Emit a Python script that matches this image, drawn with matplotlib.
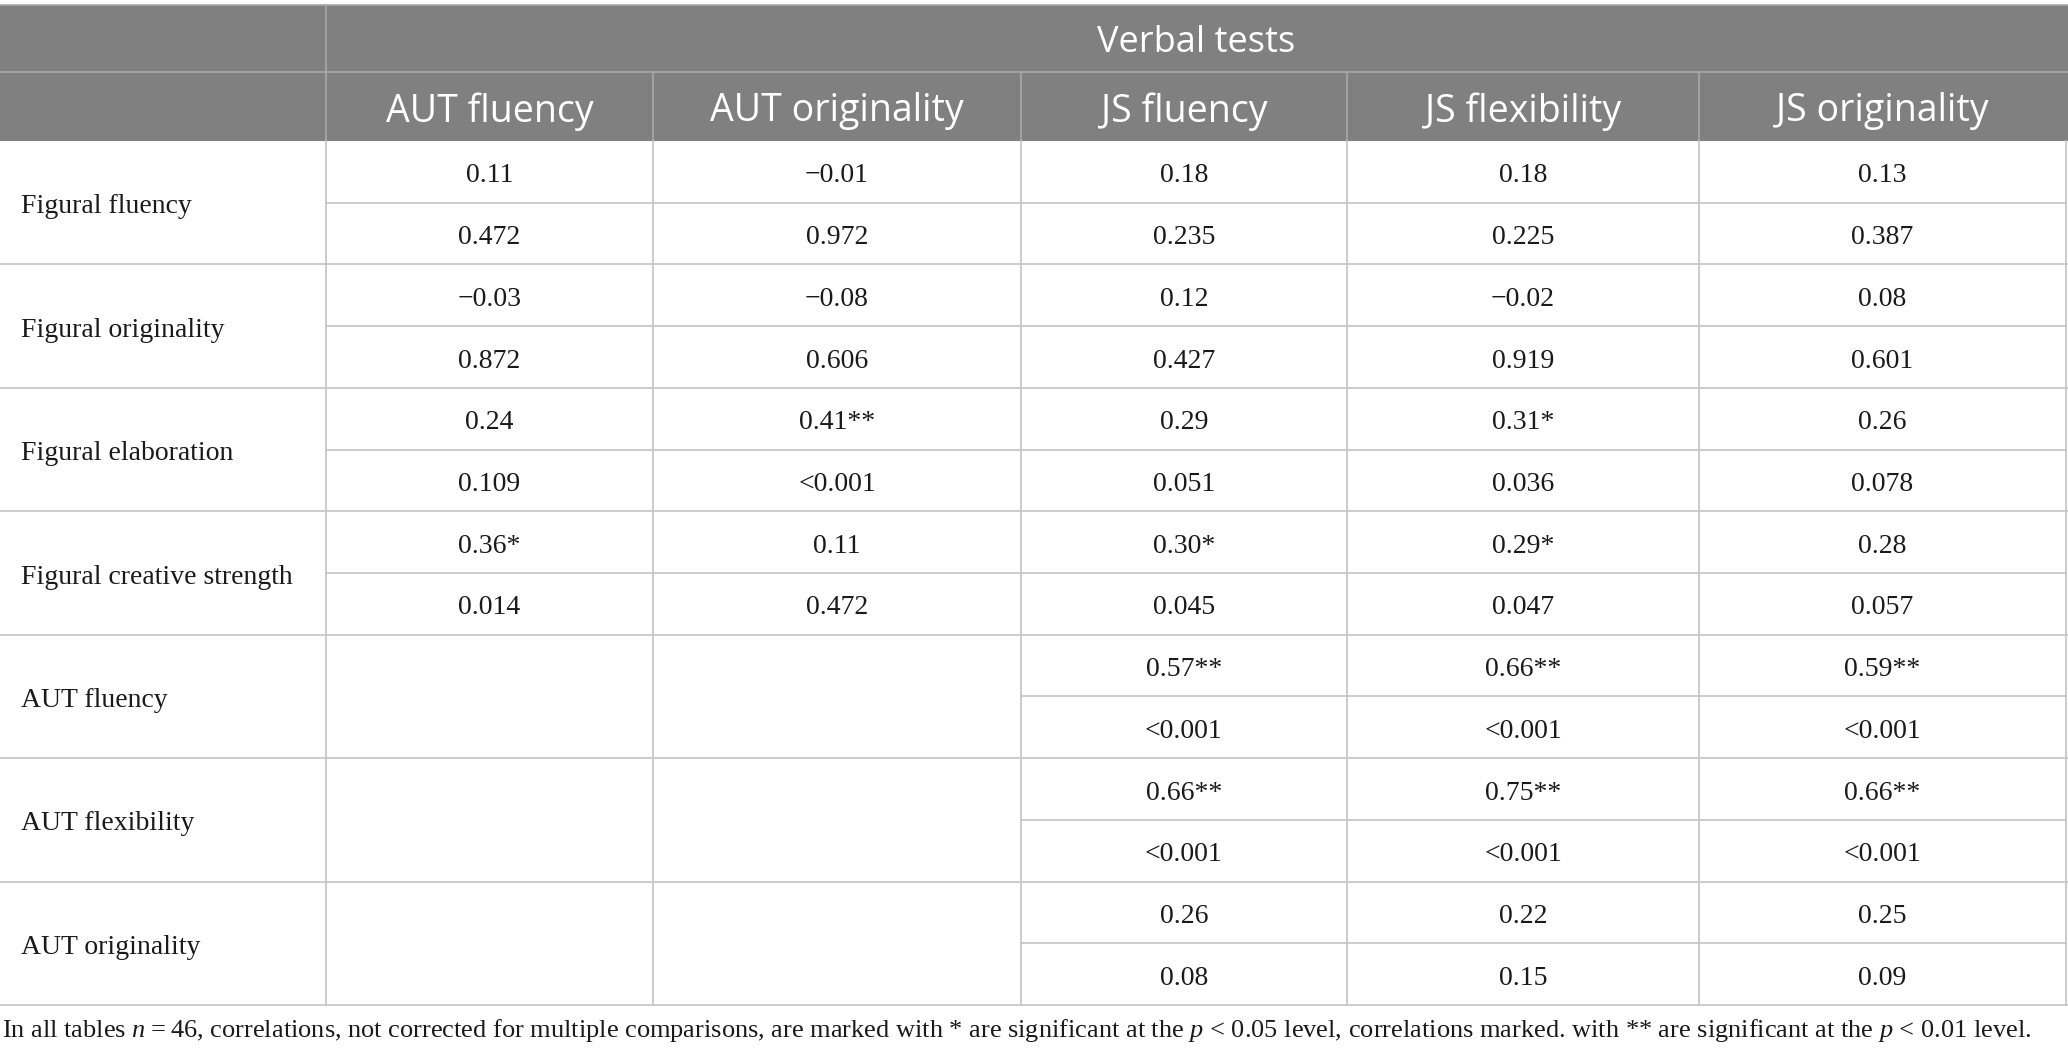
import matplotlib.pyplot as plt
from matplotlib.patches import Rectangle

# table content
group_title = "Verbal tests"
col_labels = ["AUT fluency", "AUT originality", "JS fluency", "JS flexibility", "JS originality"]
row_labels = ["Figural fluency", "Figural originality", "Figural elaboration",
              "Figural creative strength", "AUT fluency", "AUT flexibility", "AUT originality"]
r_values = [
    ["0.11", "\u22120.01", "0.18", "0.18", "0.13"],
    ["\u22120.03", "\u22120.08", "0.12", "\u22120.02", "0.08"],
    ["0.24", "0.41**", "0.29", "0.31*", "0.26"],
    ["0.36*", "0.11", "0.30*", "0.29*", "0.28"],
    ["", "", "0.57**", "0.66**", "0.59**"],
    ["", "", "0.66**", "0.75**", "0.66**"],
    ["", "", "0.26", "0.22", "0.25"],
]
p_values = [
    ["0.472", "0.972", "0.235", "0.225", "0.387"],
    ["0.872", "0.606", "0.427", "0.919", "0.601"],
    ["0.109", "<0.001", "0.051", "0.036", "0.078"],
    ["0.014", "0.472", "0.045", "0.047", "0.057"],
    ["", "", "<0.001", "<0.001", "<0.001"],
    ["", "", "<0.001", "<0.001", "<0.001"],
    ["", "", "0.08", "0.15", "0.09"],
]
footnote = ("In all tables $n$\u2009=\u200946, correlations, not corrected for multiple comparisons, "
            "are marked with * are significant at the $p$ < 0.05 level, correlations marked. "
            "with ** are significant at the $p$ < 0.01 level.")

plt.rcParams['mathtext.fontset'] = 'custom'
plt.rcParams['mathtext.rm'] = 'Liberation Serif'
plt.rcParams['mathtext.it'] = 'Liberation Serif:italic'

W, H = 2068, 1059
fig = plt.figure(figsize=(W / 100, H / 100), dpi=100)
ax = fig.add_axes([0, 0, 1, 1])
ax.set_xlim(0, W)
ax.set_ylim(H, 0)
ax.axis('off')

header_bg = '#808080'
grid = '#c4c4c4'
head_line = '#a8a8a8'
col_x = [0, 326, 653, 1021, 1347, 1699, 2066]
top, h1, h2 = 5, 72, 141
row_h = (1005 - h2) / len(row_labels)

# header background
ax.add_patch(Rectangle((0, top), W, h2 - top, color=header_bg, lw=0))
ax.plot([0, W], [top, top], color=head_line, lw=1.2)
ax.plot([col_x[1], W], [h1, h1], color=head_line, lw=1.2)
ax.plot([0, col_x[1]], [h1, h1], color=head_line, lw=1.2)
ax.plot([col_x[1], col_x[1]], [top, h2], color=head_line, lw=1.2)
for x in col_x[2:-1]:
    ax.plot([x, x], [h1, h2], color=head_line, lw=1.2)

hfont = dict(family='Open Sans', color='white')
ax.text((col_x[1] + col_x[-1]) / 2, (top + h1) / 2 + 5, group_title,
        ha='center', va='center', fontsize=26, **hfont)
for j, lab in enumerate(col_labels):
    ax.text((col_x[j + 1] + col_x[j + 2]) / 2, (h1 + h2) / 2 + 5, lab,
            ha='center', va='center', fontsize=27, **hfont)

# body
bfont = dict(family='Liberation Serif', color='#1a1a1a', fontsize=20)
for i, lab in enumerate(row_labels):
    y0 = h2 + i * row_h
    ym = y0 + row_h / 2
    ax.text(21, ym + 4, lab, ha='left', va='center', **bfont)
    ax.plot([0, W], [y0 + row_h, y0 + row_h], color=grid, lw=1.2)
    for j in range(len(col_labels)):
        cx = (col_x[j + 1] + col_x[j + 2]) / 2
        if r_values[i][j] or p_values[i][j]:
            ax.plot([col_x[j + 1], col_x[j + 2]], [ym, ym], color=grid, lw=1.2)
        ax.text(cx, y0 + row_h / 4 + 4, r_values[i][j], ha='center', va='center', **bfont)
        ax.text(cx, y0 + 3 * row_h / 4 + 4, p_values[i][j], ha='center', va='center', **bfont)

for x in col_x[1:]:
    ax.plot([x, x], [h2, h2 + row_h * len(row_labels)], color=grid, lw=1.2)

ax.text(2, 1031, footnote, ha='left', va='center', family='Liberation Serif',
        color='#1a1a1a', fontsize=19)

fig.savefig('out.png', dpi=100)
